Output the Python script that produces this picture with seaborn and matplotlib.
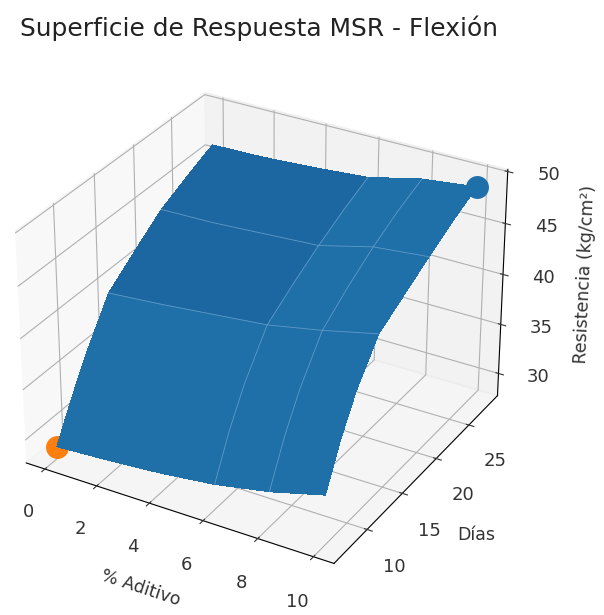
import numpy as np
import matplotlib
matplotlib.use("Agg")
import matplotlib.pyplot as plt
import seaborn as sns

# Values, one row per day
aditivo = [0, 2, 4, 6, 8, 10]
dias = [7, 9, 11, 14, 17.5, 21, 24.5, 28]
resistencia = [
    [28.9, 29.2, 29.6, 30.2, 31.2, 32.6],
    [32.4, 32.9, 33.5, 34.2, 35.2, 36.6],
    [35.6, 36.1, 36.8, 37.4, 38.4, 39.8],
    [39.7, 40.1, 40.6, 41.1, 42.1, 43.3],
    [41.8, 42.0, 42.4, 42.9, 44.1, 44.8],
    [43.8, 43.9, 44.2, 44.5, 45.8, 46.3],
    [45.1, 45.2, 45.5, 45.9, 47.2, 47.7],
    [46.3, 46.4, 46.7, 47.1, 48.3, 48.9],
]
punto_min = (0, 7, 28.9)
punto_max = (10, 28, 48.9)

# grid lines visible on the surface
filas_malla = [3, 5]
columnas_malla = [3, 4]

colores = sns.color_palette("tab10")
azul = "#1f6fa9"
azul_oscuro = "#1c67a1"

fig = plt.figure(figsize=(6.04, 6.15), dpi=100)
ax = fig.add_subplot(projection="3d")
ax.set_position([-0.025, 0.0, 0.907, 0.946])

X, Y = np.meshgrid(aditivo, dias)
Z = np.array(resistencia)

# the upper panels of the surface are a little darker
tonos = np.full(Z.shape, azul, dtype=object)
tonos[3:, :3] = azul_oscuro
ax.plot_surface(X, Y, Z, facecolors=tonos, shade=False, linewidth=0, antialiased=False, zorder=2)

for i in filas_malla:
    ax.plot(X[i], Y[i], Z[i], color="#5f9ac9", lw=0.6, zorder=5)
for j in columnas_malla:
    ax.plot(X[:, j], Y[:, j], Z[:, j], color="#5f9ac9", lw=0.6, zorder=5)

ax.scatter(*punto_min, color=colores[1], s=240, depthshade=False, zorder=1)
ax.scatter(*punto_max, color=azul, s=240, depthshade=False, zorder=6)

ax.set_zlim(27.7, 50.2)

fig.suptitle("Superficie de Respuesta MSR - Flexión", fontsize=17.9, x=0.033, y=0.975,
             ha="left", va="top", color="#222222")
ax.set_xlabel("% Aditivo", fontsize=12.5, labelpad=18, color="#333333")
ax.set_ylabel("Días", fontsize=12.5, labelpad=17, color="#333333")
ax.set_zlabel("Resistencia (kg/cm²)", fontsize=12.5, labelpad=16, color="#333333")
ax.set_xticks([0, 2, 4, 6, 8, 10])
ax.set_yticks([10, 15, 20, 25])
ax.set_zticks([30, 35, 40, 45, 50])
ax.tick_params(labelsize=13, colors="#333333")
ax.tick_params(axis="x", pad=10)
ax.tick_params(axis="y", pad=10)
ax.tick_params(axis="z", pad=10)

fig.savefig("out.png", dpi=100)
